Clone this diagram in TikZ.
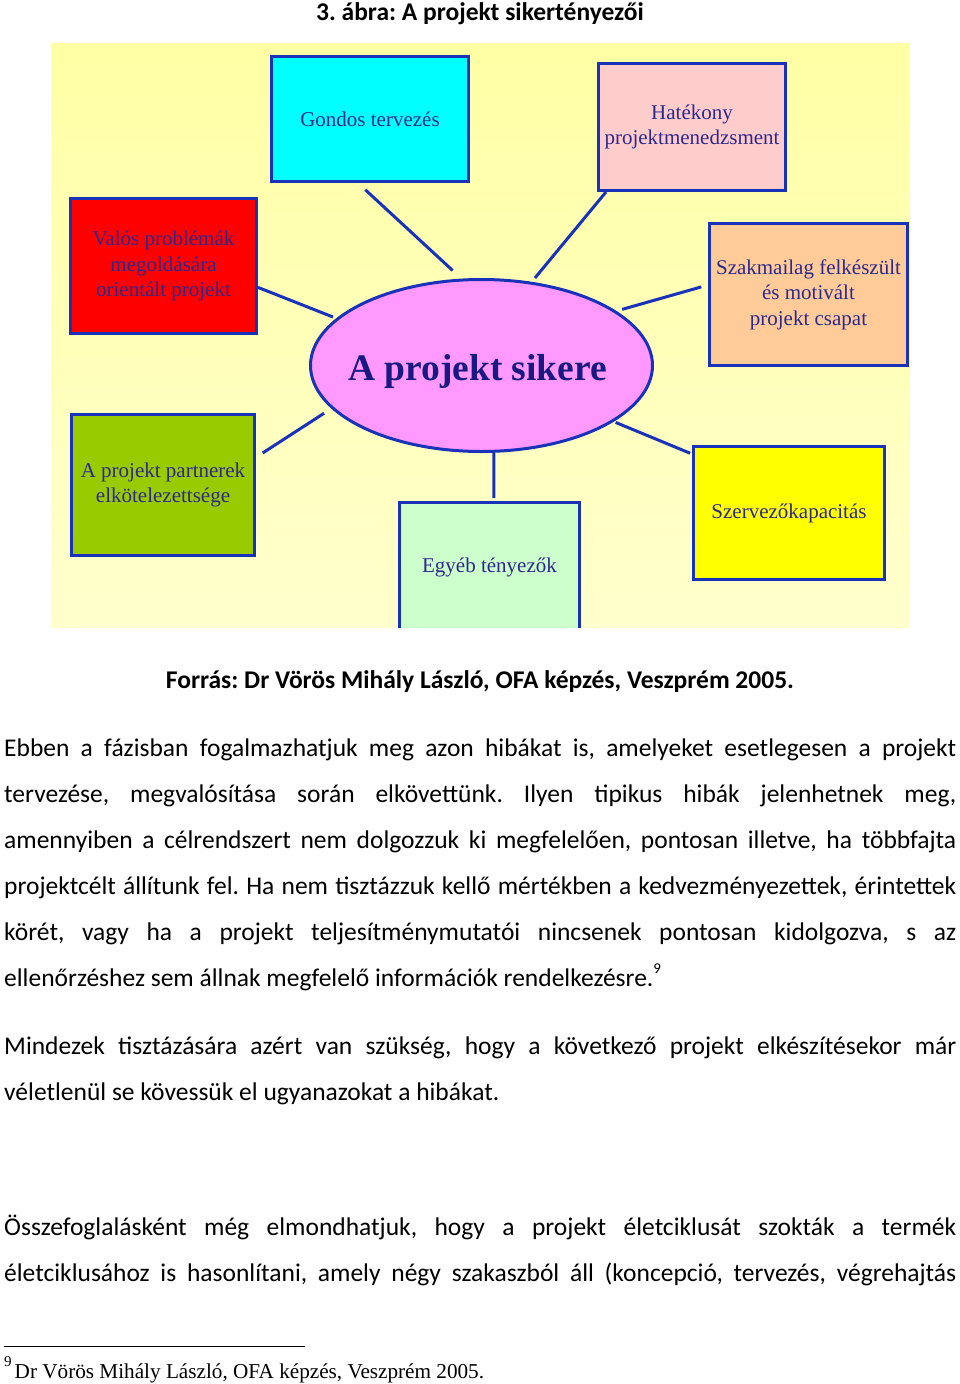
\documentclass[tikz,border=0pt]{standalone}
\usepackage{fontspec}
\setmainfont{Carlito}
\newfontfamily\abrafont{Liberation Serif}
\usetikzlibrary{shapes.geometric}

\definecolor{keret}{RGB}{25,50,185}
\definecolor{betu}{RGB}{45,40,140}
\definecolor{cimbetu}{RGB}{25,25,130}
\definecolor{hatterfel}{RGB}{255,255,165}
\definecolor{hatterle}{RGB}{255,255,205}
\definecolor{ciano}{RGB}{0,255,255}
\definecolor{piros}{RGB}{255,0,0}
\definecolor{sarga}{RGB}{255,255,0}
\definecolor{rozsa}{RGB}{255,204,204}
\definecolor{barack}{RGB}{255,204,153}
\definecolor{fuzold}{RGB}{153,204,0}
\definecolor{menta}{RGB}{204,255,204}
\definecolor{lila}{RGB}{255,153,255}

\newcommand\kizart[1]{\makebox[952pt][s]{#1}}
\frenchspacing

\begin{document}
\begin{tikzpicture}[x=1pt,y=-1pt,
	doboz/.style={draw=keret, line width=3pt, inner sep=1pt, align=center, text=betu,
		font=\abrafont\fontsize{21}{25.5}\selectfont},
	vonal/.style={draw=keret, line width=3pt},
	sor/.style={anchor=base west, inner sep=0pt, font=\fontsize{25.5}{30}\selectfont},
	kozep/.style={anchor=base, inner sep=0pt, font=\bfseries\fontsize{25.5}{30}\selectfont}]
	\useasboundingbox (0,0) rectangle (960,1384);

	\node[kozep] (cim) at (480,20) {3. ábra: A projekt sikertényezői};

	% abra
	\shade[top color=hatterfel, bottom color=hatterle] (51,43) rectangle (910,627);
	\begin{scope}
	\clip (51,43) rectangle (910,627);
	\node[doboz, fill=ciano, minimum width=197pt, minimum height=125pt] (gondos) at (370,119) {Gondos tervezés};
	\node[doboz, fill=rozsa, minimum width=187pt, minimum height=127pt] (hatekony) at (692,127) {Hatékony\\projektmenedzsment};
	\node[doboz, fill=barack, minimum width=198pt, minimum height=142pt] (szakmai) at (808.5,294.5) {Szakmailag felkészült\\és motivált\\projekt csapat};
	\node[doboz, fill=piros, minimum width=186pt, minimum height=135pt] (valos) at (163.5,266) {Valós problémák\\megoldására\\orientált projekt};
	\node[doboz, fill=fuzold, minimum width=183pt, minimum height=141pt] (partner) at (163,485) {A projekt partnerek\\elkötelezettsége};
	\node[doboz, fill=menta, minimum width=180pt, minimum height=130pt] (egyeb) at (489.5,567.5) {Egyéb tényezők};
	\node[doboz, fill=sarga, minimum width=191pt, minimum height=133pt] (szervezo) at (789,513) {Szervezőkapacitás};
	\node[ellipse, draw=keret, line width=3pt, fill=lila, inner sep=0pt,
		minimum width=342pt, minimum height=172pt,
		label={[xshift=-4pt, yshift=-6pt, text=cimbetu, font=\abrafont\bfseries\fontsize{37.5}{40}\selectfont]center:A projekt sikere}]
		(siker) at (481.5,365.5) {};
	\end{scope}

	\draw[vonal, shorten <=10pt, shorten >=12pt] ([xshift=-12pt]gondos.south) -- (siker.103);
	\draw[vonal, shorten >=5pt] ([xshift=-86pt]hatekony.south) -- (siker.59);
	\draw[vonal, shorten <=7pt, shorten >=6pt] ([yshift=9.5pt]szakmai.west) -- (siker.22);
	\draw[vonal, shorten >=3.5pt] ([yshift=-21.4pt]valos.east) -- (siker.162);
	\draw[vonal, shorten <=8pt, shorten >=8.6pt] ([yshift=27.7pt]partner.east) -- (siker.196);
	\draw[vonal, shorten <=3pt] ([xshift=4.5pt]egyeb.north) -- (siker.278);
	\draw[vonal, shorten <=2pt, shorten >=2pt] ([yshift=59pt]szervezo.west) -- (siker.337);

	\node[kozep] (forras) at (480,688) {Forrás: Dr Vörös Mihály László, OFA képzés, Veszprém 2005.};

	% szoveg
	\node[sor] (s1) at (4,756) {\kizart{Ebben a fázisban fogalmazhatjuk meg azon hibákat is, amelyeket esetlegesen a projekt}};
	\node[sor] (s2) at (4,802) {\kizart{tervezése, megvalósítása során elkövettünk. Ilyen tipikus hibák jelenhetnek meg,}};
	\node[sor] (s3) at (4,848) {\kizart{amennyiben a célrendszert nem dolgozzuk ki megfelelően, pontosan illetve, ha többfajta}};
	\node[sor] (s4) at (4,894) {\kizart{projektcélt állítunk fel. Ha nem tisztázzuk kellő mértékben a kedvezményezettek, érintettek}};
	\node[sor] (s5) at (4,940) {\kizart{körét, vagy ha a projekt teljesítménymutatói nincsenek pontosan kidolgozva, s az}};
	\node[sor] (s6) at (4,986) {ellenőrzéshez sem állnak megfelelő információk rendelkezésre.\raisebox{13pt}{\fontsize{15}{15}\selectfont 9}};
	\node[sor] (s7) at (4,1054) {\kizart{Mindezek tisztázására azért van szükség, hogy a következő projekt elkészítésekor már}};
	\node[sor] (s8) at (4,1100) {véletlenül se kövessük el ugyanazokat a hibákat.};
	\node[sor] (s9) at (4,1235) {\kizart{Összefoglalásként még elmondhatjuk, hogy a projekt életciklusát szokták a termék}};
	\node[sor] (s10) at (4,1281) {\kizart{életciklusához is hasonlítani, amely négy szakaszból áll (koncepció, tervezés, végrehajtás}};

	% labjegyzet
	\draw[line width=1pt] (4,1346) -- (305,1346);
	\node[sor, font=\abrafont\fontsize{21.2}{24}\selectfont] (jegyzet) at (4,1378)
		{\raisebox{12pt}{\fontsize{15}{15}\selectfont 9}\hspace{3pt}Dr Vörös Mihály László, OFA képzés, Veszprém 2005.};
\end{tikzpicture}
\end{document}
